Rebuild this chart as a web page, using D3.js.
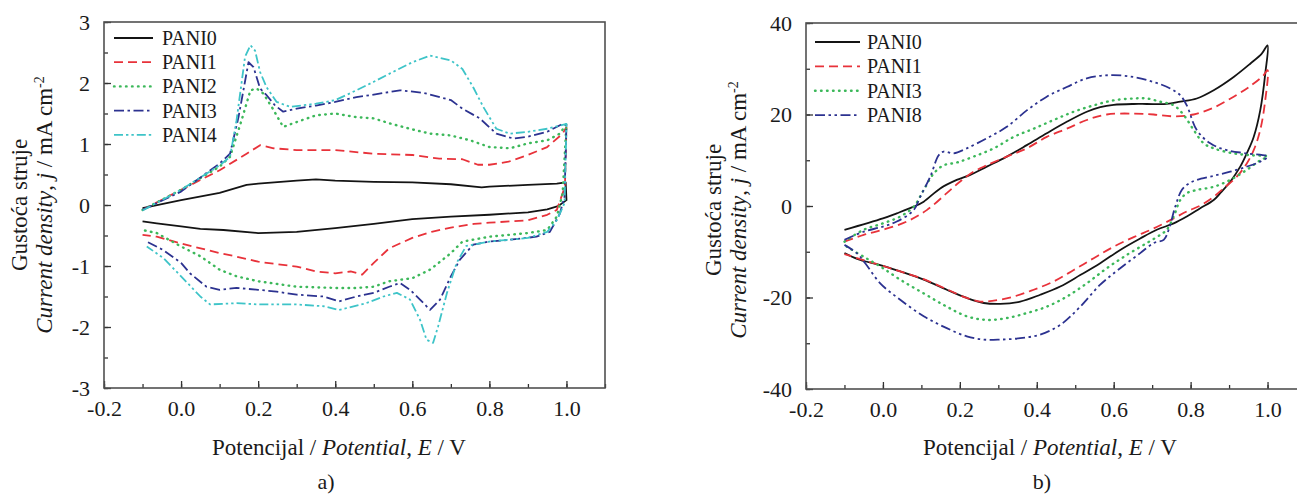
<!DOCTYPE html>
<html><head><meta charset="utf-8">
<script src="https://cdn.jsdelivr.net/npm/d3@7"></script>
<style>
body{margin:0;background:#fff}
svg{display:block}
text{font-family:"Liberation Serif","Times New Roman",serif;fill:#1a1a1a}
</style>
</head><body>
<svg id="c" width="1297" height="495"></svg>
<script>
// ---------- tick labels ----------
const xTickValues = [-0.2, 0.0, 0.2, 0.4, 0.6, 0.8, 1.0];
const yTickValuesA = [-3, -2, -1, 0, 1, 2, 3];
const yTickValuesB = [-40, -20, 0, 20, 40];
const seriesNamesA = ["PANI0", "PANI1", "PANI2", "PANI3", "PANI4"];
const seriesNamesB = ["PANI0", "PANI1", "PANI3", "PANI8"];

// ---------- panel a) data: [E / V, j / mA cm-2], forward then reverse scan ----------
const a_PANI0 = [[-0.1,-0.05],[0,0.08],[0.1,0.2],[0.17,0.33],[0.2,0.35],[0.3,0.4],[0.35,0.42],[0.4,0.4],[0.5,0.38],[0.6,0.37],[0.7,0.34],[0.78,0.29],[0.8,0.3],[0.9,0.33],[0.975,0.35],[0.998,0.37],[1.0,0.08],
  [0.978,-0.02],[0.95,-0.07],[0.9,-0.12],[0.8,-0.16],[0.7,-0.19],[0.6,-0.23],[0.5,-0.31],[0.4,-0.38],[0.3,-0.44],[0.2,-0.46],[0.11,-0.41],[0.05,-0.39],[0,-0.35],[-0.063,-0.3],[-0.1,-0.27]];
const a_PANI1 = [[-0.1,-0.08],[0,0.25],[0.1,0.57],[0.17,0.84],[0.205,0.98],[0.24,0.93],[0.3,0.9],[0.4,0.9],[0.5,0.84],[0.6,0.82],[0.67,0.76],[0.73,0.75],[0.77,0.66],[0.8,0.66],[0.85,0.71],[0.9,0.82],[0.95,0.95],[0.99,1.17],[1.0,1.28],
  [0.996,0.3],[0.975,-0.08],[0.95,-0.16],[0.9,-0.25],[0.8,-0.29],[0.76,-0.31],[0.7,-0.37],[0.65,-0.44],[0.6,-0.54],[0.54,-0.71],[0.5,-0.95],[0.47,-1.14],[0.44,-1.09],[0.4,-1.12],[0.35,-1.09],[0.3,-1.01],[0.2,-0.93],[0.14,-0.84],[0.1,-0.79],[0,-0.63],[-0.063,-0.52],[-0.1,-0.49]];
const a_PANI2 = [[-0.1,-0.08],[0,0.25],[0.1,0.63],[0.127,0.79],[0.157,1.39],[0.18,1.88],[0.196,1.91],[0.213,1.83],[0.235,1.61],[0.265,1.28],[0.3,1.36],[0.35,1.47],[0.4,1.5],[0.455,1.44],[0.5,1.42],[0.54,1.34],[0.6,1.24],[0.646,1.17],[0.7,1.14],[0.75,1.06],[0.8,0.95],[0.853,0.93],[0.9,1.01],[0.95,1.06],[0.983,1.17],[1.0,1.33],
  [0.99,0.19],[0.975,-0.19],[0.95,-0.41],[0.9,-0.46],[0.8,-0.52],[0.73,-0.6],[0.7,-0.79],[0.646,-1.06],[0.6,-1.2],[0.54,-1.25],[0.5,-1.34],[0.455,-1.36],[0.4,-1.36],[0.3,-1.34],[0.2,-1.25],[0.144,-1.17],[0.1,-1.06],[0.05,-0.84],[0,-0.68],[-0.063,-0.46],[-0.1,-0.41]];
const a_PANI3 = [[-0.1,-0.08],[0,0.22],[0.1,0.68],[0.127,0.84],[0.149,1.44],[0.175,2.34],[0.188,2.26],[0.205,1.91],[0.222,1.8],[0.244,1.63],[0.265,1.53],[0.3,1.58],[0.35,1.63],[0.4,1.69],[0.455,1.77],[0.5,1.81],[0.568,1.88],[0.628,1.84],[0.7,1.72],[0.73,1.58],[0.775,1.42],[0.818,1.17],[0.862,1.09],[0.9,1.12],[0.95,1.2],[0.99,1.33],[1.0,1.31],
  [0.995,0.14],[0.983,-0.14],[0.957,-0.44],[0.922,-0.52],[0.853,-0.57],[0.8,-0.6],[0.758,-0.65],[0.723,-0.9],[0.7,-1.17],[0.672,-1.55],[0.646,-1.72],[0.62,-1.55],[0.594,-1.39],[0.568,-1.28],[0.54,-1.34],[0.5,-1.44],[0.455,-1.5],[0.41,-1.58],[0.37,-1.5],[0.3,-1.47],[0.248,-1.42],[0.2,-1.39],[0.144,-1.36],[0.1,-1.39],[0.066,-1.34],[0.023,-1.12],[0,-0.95],[-0.046,-0.74],[-0.089,-0.6]];
const a_PANI4 = [[-0.1,-0.09],[0,0.25],[0.1,0.65],[0.127,0.79],[0.144,1.39],[0.166,2.43],[0.18,2.62],[0.192,2.53],[0.205,2.18],[0.222,1.93],[0.248,1.69],[0.283,1.61],[0.35,1.66],[0.4,1.72],[0.455,1.88],[0.5,2.02],[0.54,2.15],[0.6,2.34],[0.646,2.45],[0.7,2.37],[0.73,2.23],[0.758,1.93],[0.784,1.61],[0.818,1.25],[0.853,1.17],[0.9,1.2],[0.95,1.25],[1.0,1.33],
  [0.995,0.03],[0.975,-0.25],[0.95,-0.44],[0.9,-0.54],[0.8,-0.6],[0.74,-0.67],[0.715,-0.95],[0.69,-1.44],[0.667,-1.99],[0.654,-2.26],[0.637,-2.21],[0.62,-1.88],[0.594,-1.55],[0.56,-1.44],[0.525,-1.5],[0.48,-1.61],[0.41,-1.72],[0.37,-1.66],[0.3,-1.63],[0.2,-1.63],[0.144,-1.61],[0.075,-1.63],[0.05,-1.5],[0,-1.17],[-0.046,-0.87],[-0.089,-0.68]];

// ---------- panel b) data ----------
const b_PANI0 = [[-0.1,-5.2],[0,-2.7],[0.036,-1.6],[0.08,-0.15],[0.106,0.95],[0.149,3.85],[0.192,5.7],[0.227,6.8],[0.27,8.6],[0.322,10.8],[0.374,13.3],[0.426,15.9],[0.478,18.4],[0.53,20.6],[0.565,21.6],[0.6,22.1],[0.652,22.3],[0.686,22.3],[0.738,22.3],[0.773,22.8],[0.816,23.5],[0.86,25.3],[0.912,28.2],[0.955,31.1],[0.985,33.3],[1.0,35.1],
  [0.994,28.9],[0.981,20.9],[0.964,15.1],[0.946,11.5],[0.929,8.6],[0.903,5.3],[0.877,2.8],[0.86,1.3],[0.825,-0.5],[0.79,-2.3],[0.756,-3.8],[0.712,-5.2],[0.669,-7.1],[0.617,-9.6],[0.565,-12.5],[0.513,-15.1],[0.461,-17.6],[0.409,-19.4],[0.357,-20.9],[0.305,-21.4],[0.262,-21.2],[0.218,-20.1],[0.166,-18.3],[0.106,-16.1],[0.045,-14.3],[-0.007,-12.9],[-0.059,-11.8],[-0.1,-10.3]];
const b_PANI1 = [[-0.1,-7.8],[-0.05,-6.3],[0,-5.2],[0.062,-3.4],[0.114,-0.9],[0.166,2.8],[0.2,5.3],[0.236,7.5],[0.27,8.9],[0.322,10.8],[0.374,12.6],[0.426,15.1],[0.478,16.9],[0.53,18.8],[0.582,20.0],[0.652,20.2],[0.704,20.0],[0.756,19.6],[0.808,20.0],[0.86,21.5],[0.912,23.9],[0.955,26.2],[0.99,28.6],[1.0,29.7],
  [0.994,23.1],[0.981,16.6],[0.964,12.2],[0.946,9.3],[0.92,6.4],[0.886,3.9],[0.86,2.0],[0.825,0.1],[0.79,-1.2],[0.756,-2.7],[0.704,-4.9],[0.652,-6.8],[0.6,-8.9],[0.548,-11.4],[0.496,-14.0],[0.444,-16.5],[0.392,-18.3],[0.34,-19.8],[0.288,-20.7],[0.253,-20.9],[0.218,-20.1],[0.166,-18.2],[0.106,-16.0],[0.045,-14.3],[-0.007,-12.9],[-0.059,-11.6],[-0.1,-10.5]];
const b_PANI3 = [[-0.1,-7.8],[-0.05,-5.2],[0,-3.8],[0.045,-2.3],[0.08,-0.15],[0.106,3.5],[0.132,7.1],[0.158,8.9],[0.192,9.5],[0.236,10.8],[0.288,12.6],[0.34,15.1],[0.392,16.9],[0.444,18.8],[0.496,20.6],[0.548,22.0],[0.6,23.1],[0.652,23.5],[0.686,23.5],[0.721,22.8],[0.756,22.0],[0.782,19.9],[0.808,16.6],[0.834,13.7],[0.86,12.6],[0.912,11.5],[0.955,11.1],[1.0,10.8],
  [0.981,10.0],[0.946,7.9],[0.903,5.7],[0.86,4.2],[0.816,3.5],[0.79,2.8],[0.773,1.3],[0.756,-2.3],[0.738,-5.2],[0.721,-6.3],[0.686,-8.1],[0.634,-10.7],[0.582,-13.6],[0.53,-16.9],[0.478,-19.8],[0.426,-22.0],[0.374,-23.4],[0.322,-24.5],[0.27,-24.9],[0.218,-24.1],[0.166,-22.0],[0.106,-19.1],[0.045,-16.1],[-0.007,-13.2],[-0.05,-11.1],[-0.094,-8.9]];
const b_PANI8 = [[-0.1,-7.4],[-0.05,-5.6],[0,-4.5],[0.036,-3.4],[0.08,-0.9],[0.097,2.0],[0.123,6.4],[0.145,11.1],[0.158,11.9],[0.184,11.5],[0.218,12.6],[0.27,14.8],[0.322,17.3],[0.374,20.9],[0.426,23.9],[0.478,26.0],[0.53,27.9],[0.591,28.6],[0.652,28.2],[0.704,27.1],[0.747,25.7],[0.773,24.2],[0.79,22.0],[0.816,16.6],[0.851,13.7],[0.894,12.2],[0.946,11.5],[1.0,10.8],
  [0.981,9.7],[0.946,8.6],[0.903,7.5],[0.86,6.6],[0.816,5.7],[0.795,4.9],[0.777,3.5],[0.76,-0.15],[0.743,-5.2],[0.73,-7.4],[0.704,-8.1],[0.669,-10.3],[0.617,-13.6],[0.565,-17.2],[0.513,-22.0],[0.461,-26.0],[0.409,-28.1],[0.357,-28.9],[0.305,-29.2],[0.262,-29.2],[0.218,-28.5],[0.166,-26.7],[0.106,-24.1],[0.045,-20.5],[-0.007,-16.9],[-0.046,-12.5],[-0.068,-10.3],[-0.1,-8.5]];

// ---------- styles (kept apart from data) ----------
const DOT = "0.6,5.4";
const styleByName = {
  PANI0: {color: "#141414", dash: null, width: 1.8},
  PANI1: {color: "#e8323a", dash: "9,5", width: 1.8},
  PANI2: {color: "#3cb85a", dash: DOT, width: 2.4, round: true},
  PANI3: {color: "#2c3290", dash: "10,3.5,2.5,3.5", width: 1.8},
  PANI4: {color: "#3ec4c8", dash: "9,3,2.4,3,2.4,3", width: 1.8},
  PANI8: {color: "#2c3290", dash: "10,3.5,2.5,3.5,2.5,3.5", width: 1.8}
};
const styleB = Object.assign({}, styleByName, {PANI3: {color: "#3cb85a", dash: DOT, width: 2.4, round: true}});

const svg = d3.select("#c");

function drawPanel(cfg) {
  const x = d3.scaleLinear().domain([-0.2, 1.1]).range([cfg.left, cfg.right]);
  const y = d3.scaleLinear().domain(cfg.yDomain).range([cfg.bottom, cfg.top]);
  const g = svg.append("g");

  const clipId = "clip" + cfg.id;
  svg.append("clipPath").attr("id", clipId).append("rect")
    .attr("x", cfg.left).attr("y", cfg.top).attr("width", cfg.right - cfg.left).attr("height", cfg.bottom - cfg.top);

  // data lines
  const line = d3.line().x(d => x(d[0])).y(d => y(d[1])).curve(cfg.curve);
  const lg = g.append("g").attr("clip-path", `url(#${clipId})`);
  cfg.series.forEach(s => {
    const st = cfg.styles[s.name];
    lg.append("path").datum(s.data).attr("d", line)
      .attr("fill", "none").attr("stroke", st.color).attr("stroke-width", st.width)
      .attr("stroke-dasharray", st.dash).attr("stroke-linejoin", "round")
      .attr("stroke-linecap", st.round ? "round" : "butt");
  });

  // axes with inward ticks
  const xMinor = d3.range(-0.2, 1.101, 0.1).map(v => +v.toFixed(2));
  const xAxis = d3.axisBottom(x).tickValues(xTickValues).tickFormat(d3.format(".1f")).tickSize(-7).tickPadding(12);
  const xg = g.append("g").attr("transform", `translate(0,${cfg.bottom})`).call(xAxis);
  g.append("g").attr("transform", `translate(0,${cfg.bottom})`)
    .call(d3.axisBottom(x).tickValues(xMinor).tickFormat("").tickSize(-4)).select(".domain").remove();
  const yAxis = d3.axisLeft(y).tickValues(cfg.yTicks).tickFormat(d3.format("d")).tickSize(-7).tickPadding(14);
  const yg = g.append("g").attr("transform", `translate(${cfg.left},0)`).call(yAxis);
  g.append("g").attr("transform", `translate(${cfg.left},0)`)
    .call(d3.axisLeft(y).tickValues(cfg.yMinor).tickFormat("").tickSize(-4)).select(".domain").remove();
  [xg, yg].forEach(a => {
    a.select(".domain").remove();
    a.attr("font-family", null);
    a.selectAll("text").attr("font-size", 22).attr("fill", "#1a1a1a")
      .style("font-family", '"Liberation Serif","Times New Roman",serif');
  });
  g.selectAll(".tick line").attr("stroke", "#333").attr("stroke-width", 1.3);
  xg.selectAll("text").text(d => d3.format(".1f")(d).replace("−", "-"));
  yg.selectAll("text").text(d => String(d));

  // frame
  g.append("rect").attr("x", cfg.left).attr("y", cfg.top)
    .attr("width", cfg.right - cfg.left).attr("height", cfg.bottom - cfg.top)
    .attr("fill", "none").attr("stroke", "#505050").attr("stroke-width", 1.6);

  // legend
  const leg = g.append("g");
  cfg.series.forEach((s, i) => {
    const st = cfg.styles[s.name];
    const yy = cfg.legY + i * cfg.legStep;
    leg.append("line").attr("x1", cfg.legX1).attr("x2", cfg.legX2).attr("y1", yy).attr("y2", yy)
      .attr("stroke", st.color).attr("stroke-width", st.width).attr("stroke-dasharray", st.dash)
      .attr("stroke-linecap", st.round ? "round" : "butt");
    leg.append("text").attr("x", cfg.legTx).attr("y", yy).attr("dy", "0.35em")
      .attr("font-size", 20).text(s.name);
  });

  // x title
  const xt = g.append("text").attr("x", cfg.xTitleX).attr("y", 455).attr("text-anchor", "middle").attr("font-size", 23);
  xt.append("tspan").text("Potencijal / ");
  xt.append("tspan").attr("font-style", "italic").text("Potential");
  xt.append("tspan").text(", ");
  xt.append("tspan").attr("font-style", "italic").text("E");
  xt.append("tspan").text(" / V");

  g.append("text").attr("x", cfg.subX).attr("y", 489).attr("text-anchor", "middle").attr("font-size", 22).text(cfg.sub);

  // y titles
  g.append("text").attr("transform", `translate(${cfg.yT1},${cfg.yTitleY}) rotate(-90)`)
    .attr("text-anchor", "middle").attr("font-size", 23).text("Gustoća struje");
  const yt = g.append("text").attr("transform", `translate(${cfg.yT2},${cfg.yTitleY}) rotate(-90)`)
    .attr("text-anchor", "middle").attr("font-size", 23);
  yt.append("tspan").attr("font-style", "italic").text("Current density");
  yt.append("tspan").text(", ");
  yt.append("tspan").attr("font-style", "italic").text("j");
  yt.append("tspan").text(" / mA cm");
  yt.append("tspan").attr("font-size", 14).attr("dy", -8).text("-2");
}

drawPanel({
  id: "a", left: 104, right: 605, top: 22, bottom: 388,
  yDomain: [-3, 3], yTicks: yTickValuesA, yMinor: d3.range(-3, 3.01, 0.5),
  curve: d3.curveLinear, styles: styleByName,
  series: [
    {name: seriesNamesA[0], data: a_PANI0},
    {name: seriesNamesA[1], data: a_PANI1},
    {name: seriesNamesA[2], data: a_PANI2},
    {name: seriesNamesA[3], data: a_PANI3},
    {name: seriesNamesA[4], data: a_PANI4}
  ],
  legX1: 114, legX2: 153, legTx: 162, legY: 38, legStep: 24.2,
  xTitleX: 339, subX: 326, sub: "a)", yT1: 27, yT2: 52, yTitleY: 205
});

drawPanel({
  id: "b", left: 806, right: 1306, top: 23, bottom: 389,
  yDomain: [-40, 40], yTicks: yTickValuesB, yMinor: d3.range(-40, 40.1, 10),
  curve: d3.curveCatmullRom.alpha(0.5), styles: styleB,
  series: [
    {name: seriesNamesB[0], data: b_PANI0},
    {name: seriesNamesB[1], data: b_PANI1},
    {name: seriesNamesB[2], data: b_PANI3},
    {name: seriesNamesB[3], data: b_PANI8}
  ],
  legX1: 815, legX2: 860, legTx: 867, legY: 42, legStep: 24.4,
  xTitleX: 1050, subX: 1042, sub: "b)", yT1: 721, yT2: 746, yTitleY: 210
});
</script>
</body></html>
